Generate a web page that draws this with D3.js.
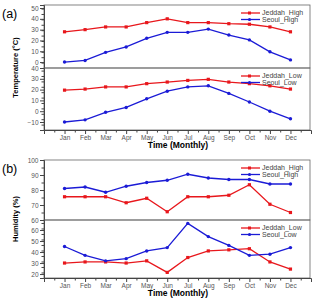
<!DOCTYPE html>
<html>
<head>
<meta charset="utf-8">
<script src="https://cdn.jsdelivr.net/npm/d3@7"></script>
<style>
  body { margin: 0; background: #fff; }
  svg { font-family: Arial, "Liberation Sans", sans-serif; }
</style>
</head>
<body>
<div id="chart"></div>
<script>
// Data
const months = ['Jan', 'Feb', 'Mar', 'Apr', 'May', 'Jun', 'Jul', 'Aug', 'Sep', 'Oct', 'Nov', 'Dec'];

const jeddahHighT = [28, 30, 32.5, 32.5, 36.5, 40, 36.5, 36.5, 35.5, 35, 32.5, 28];
const seoulHighT = [0, 1.5, 9, 14, 22, 27.5, 27.5, 30.5, 25, 20.5, 9.5, 2];
const jeddahLowT = [19.5, 20.5, 22.5, 22.5, 25.5, 27, 28.5, 29.5, 27, 25.5, 23.5, 20.5];
const seoulLowT = [-10, -8, -1, 3.5, 11.5, 18.5, 22.5, 23.5, 16.5, 8.5, 0, -7];

const jeddahHighH = [75.5, 75.5, 75.5, 71.5, 74.5, 65.5, 75.5, 75.5, 76.5, 83.5, 70.5, 65];
const seoulHighH = [81, 82, 78.5, 82.5, 85, 86.5, 90.5, 88, 87, 87, 84, 84];
const jeddahLowH = [30, 31, 31, 30, 32, 21.5, 35, 41, 42, 43, 31, 24.5];
const seoulLowH = [45, 37, 32, 34, 41, 44, 66, 54, 46, 37, 38, 44];

const tempHighTicks = [0, 10, 20, 30, 40, 50];
const tempLowTicks = [-10, 0, 10, 20, 30, 40];
const humHighTicks = [60, 70, 80, 90, 100];
const humLowTicks = [20, 30, 40, 50, 60];

const red = '#e8171c';
const blue = '#1b1bd6';

const width = 315, height = 304;
const left = 44, right = 311;

const svg = d3.select('#chart').append('svg')
  .attr('width', width)
  .attr('height', height);

const x = d3.scaleLinear().domain([0, 13]).range([left, right]);

// one sub-panel (a stacked half)
function subPanel(top, bottom, domain, ticks, series, names) {
  const y = d3.scaleLinear().domain(domain).range([bottom, top]);
  const g = svg.append('g');

  // frame
  g.append('rect')
    .attr('x', left).attr('y', top)
    .attr('width', right - left - 1).attr('height', bottom - top)
    .attr('fill', 'none').attr('stroke', '#666').attr('stroke-width', 0.8);

  // y axis
  const minor = d3.range(domain[0], domain[1], 5).filter(v => v % 10 !== 0 && v > domain[0]);
  g.append('g')
    .attr('transform', `translate(${left},0)`)
    .call(d3.axisLeft(y).tickValues(minor).tickSize(2.5).tickFormat(''))
    .call(a => a.select('.domain').remove())
    .selectAll('line').attr('stroke', '#444');
  const ya = g.append('g')
    .attr('transform', `translate(${left},0)`)
    .call(d3.axisLeft(y).tickValues(ticks).tickSize(4).tickPadding(1.5));
  ya.select('.domain').attr('stroke', '#444');
  ya.selectAll('line').attr('stroke', '#444');
  ya.selectAll('text').style('font-size', '6.5px').attr('fill', '#555');

  // lines and markers
  const line = d3.line()
    .x((d, i) => x(i + 1))
    .y(d => y(d));
  const colors = [red, blue];
  series.forEach((s, k) => {
    g.append('path')
      .datum(s)
      .attr('d', line)
      .attr('fill', 'none')
      .attr('stroke', colors[k])
      .attr('stroke-width', 1.3);
    if (k === 0) {
      g.selectAll('.sq').data(s).enter().append('rect')
        .attr('x', (d, i) => x(i + 1) - 1.6)
        .attr('y', d => y(d) - 1.6)
        .attr('width', 3.2).attr('height', 3.2)
        .attr('fill', red);
    } else {
      g.selectAll('.ci').data(s).enter().append('circle')
        .attr('cx', (d, i) => x(i + 1))
        .attr('cy', d => y(d))
        .attr('r', 1.7)
        .attr('fill', blue);
    }
  });

  // legend
  names.forEach((n, k) => {
    const ly = top + 8 + k * 6.5;
    g.append('line')
      .attr('x1', 241).attr('x2', 260)
      .attr('y1', ly).attr('y2', ly)
      .attr('stroke', colors[k]).attr('stroke-width', 1.3);
    if (k === 0) {
      g.append('rect').attr('x', 248).attr('y', ly - 1.5)
        .attr('width', 3).attr('height', 3).attr('fill', red);
    } else {
      g.append('circle').attr('cx', 249.5).attr('cy', ly).attr('r', 1.6).attr('fill', blue);
    }
    g.append('text')
      .attr('x', 262).attr('y', ly + 2.3)
      .style('font-size', '7px')
      .attr('fill', '#444')
      .text(n);
  });
}

function panel(top, mid, bottom, hiDomain, hiTicks, loDomain, loTicks, hi, lo, label, ylab) {
  subPanel(top, mid, hiDomain, hiTicks, hi, ['Jeddah_High', 'Seoul_High']);
  subPanel(mid, bottom, loDomain, loTicks, lo, ['Jeddah_Low', 'Seoul_Low']);

  // x axis
  const minorX = d3.range(0.5, 13, 1);
  svg.append('g')
    .attr('transform', `translate(0,${bottom})`)
    .call(d3.axisBottom(x).tickValues(minorX).tickSize(2.5).tickFormat(''))
    .call(a => a.select('.domain').remove())
    .selectAll('line').attr('stroke', '#444');
  const xa = svg.append('g')
    .attr('transform', `translate(0,${bottom})`)
    .call(d3.axisBottom(x).tickValues(d3.range(1, 13)).tickSize(4).tickPadding(1.5)
      .tickFormat(d => months[d - 1]));
  xa.select('.domain').attr('stroke', '#444');
  xa.selectAll('line').attr('stroke', '#444');
  xa.selectAll('text').style('font-size', '6.5px').attr('fill', '#555');

  svg.append('text')
    .attr('x', 178).attr('y', bottom + 18)
    .attr('text-anchor', 'middle')
    .style('font-size', '8.5px').style('font-weight', 'bold')
    .text('Time (Monthly)');

  svg.append('text')
    .attr('x', 2).attr('y', top + 13)
    .style('font-size', '12.5px')
    .text(label);

  svg.append('text')
    .attr('transform', `translate(18,${(top + bottom) / 2}) rotate(-90)`)
    .attr('text-anchor', 'middle')
    .style('font-size', '7.5px').style('font-weight', 'bold')
    .text(ylab);
}

panel(5, 68, 130, [-5.5, 52.8], tempHighTicks, [-17.4, 40], tempLowTicks,
  [jeddahHighT, seoulHighT], [jeddahLowT, seoulLowT], '(a)', 'Temperature (°C)');

panel(160, 220, 278, [60, 100], humHighTicks, [16.4, 69.1], humLowTicks,
  [jeddahHighH, seoulHighH], [jeddahLowH, seoulLowH], '(b)', 'Humidity (%)');
</script>
</body>
</html>
